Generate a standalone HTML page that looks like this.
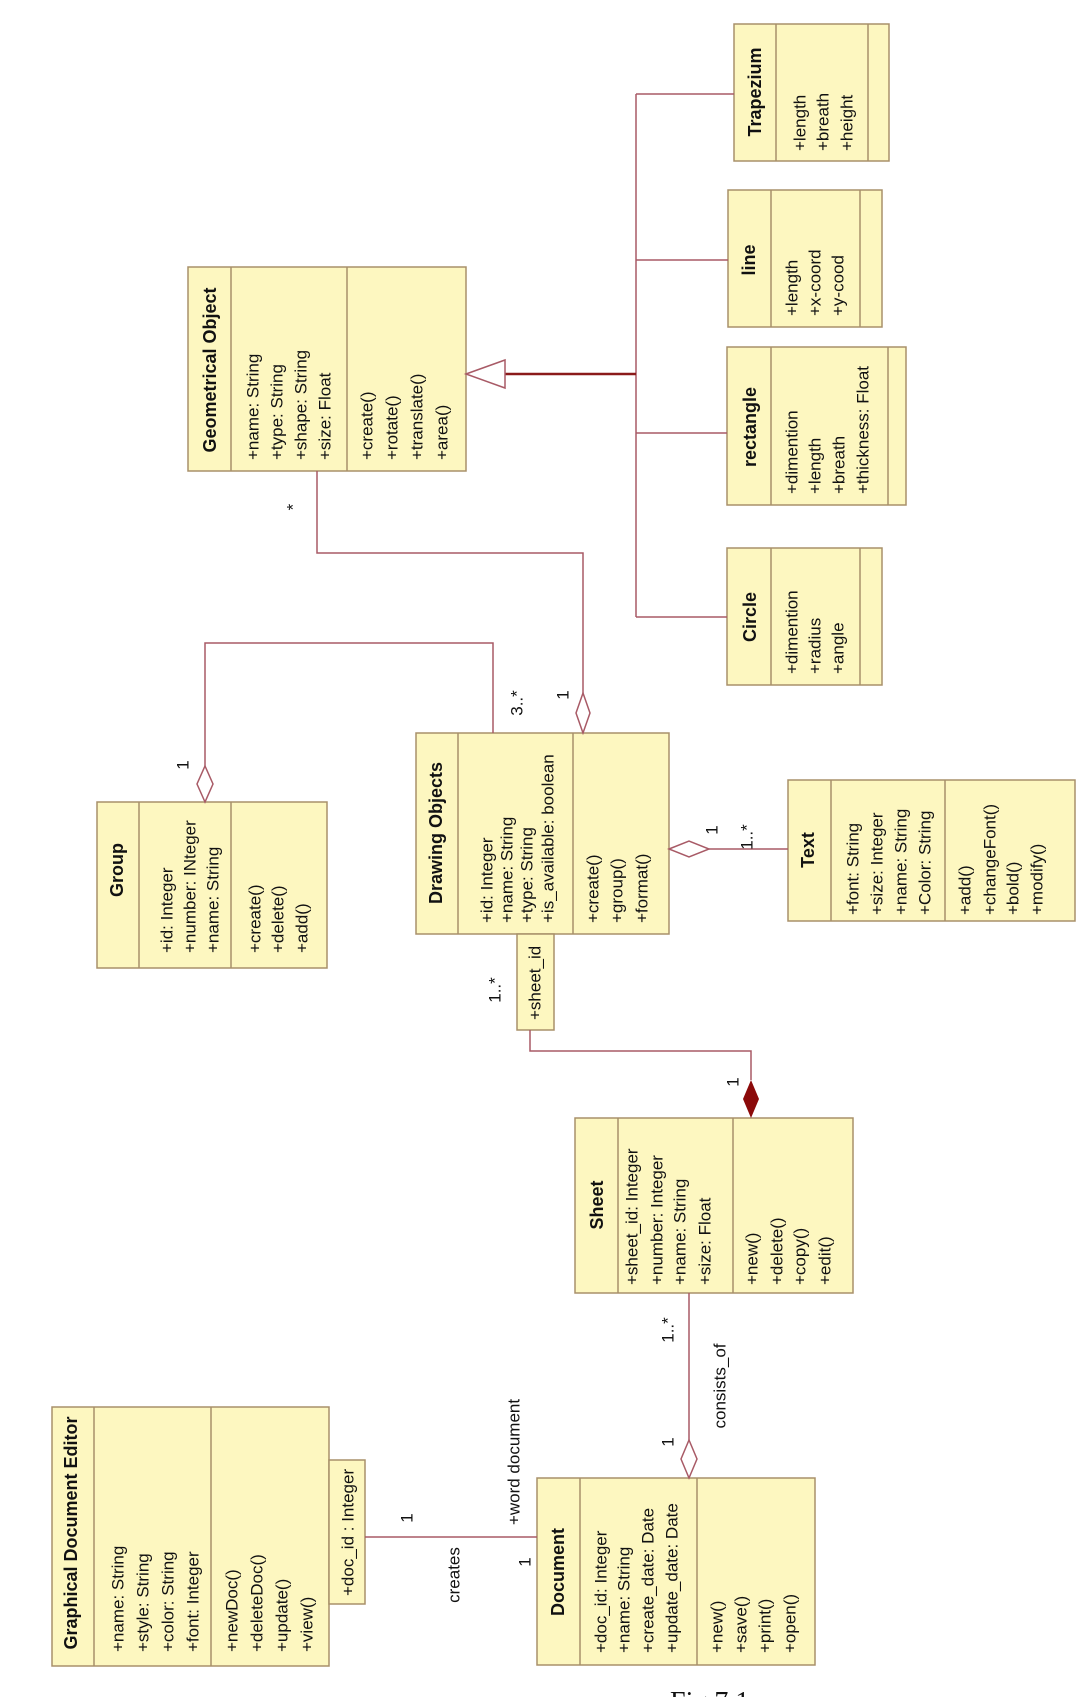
<!DOCTYPE html>
<html><head><meta charset="utf-8"><style>
html,body{margin:0;padding:0;background:#fff;}
svg{display:block;}
text{font-family:"Liberation Sans",sans-serif;fill:#111;}
.t{font-size:18px;font-weight:bold;}
.a{font-size:17px;}
.l{font-size:17px;}
</style></head><body>
<svg width="1080" height="1697" viewBox="0 0 1080 1697" xmlns="http://www.w3.org/2000/svg">
<g fill="#fdf7c0" stroke="#a8906a" stroke-width="1.5">
<rect x="52" y="1407" width="277" height="259"/><line x1="94" y1="1407" x2="94" y2="1666"/><line x1="211" y1="1407" x2="211" y2="1666"/>
<rect x="329" y="1460" width="36" height="144"/>
<rect x="537" y="1478" width="278" height="187"/><line x1="580" y1="1478" x2="580" y2="1665"/><line x1="697" y1="1478" x2="697" y2="1665"/>
<rect x="575" y="1118" width="278" height="175"/><line x1="618" y1="1118" x2="618" y2="1293"/><line x1="733" y1="1118" x2="733" y2="1293"/>
<rect x="416" y="733" width="253" height="201"/><line x1="458" y1="733" x2="458" y2="934"/><line x1="573" y1="733" x2="573" y2="934"/>
<rect x="517" y="934" width="37" height="96"/>
<rect x="97" y="802" width="230" height="166"/><line x1="139" y1="802" x2="139" y2="968"/><line x1="231" y1="802" x2="231" y2="968"/>
<rect x="188" y="267" width="278" height="204"/><line x1="231" y1="267" x2="231" y2="471"/><line x1="347" y1="267" x2="347" y2="471"/>
<rect x="734" y="24" width="155" height="137"/><line x1="776" y1="24" x2="776" y2="161"/><line x1="868" y1="24" x2="868" y2="161"/>
<rect x="728" y="190" width="154" height="137"/><line x1="771" y1="190" x2="771" y2="327"/><line x1="860" y1="190" x2="860" y2="327"/>
<rect x="727" y="347" width="179" height="158"/><line x1="771" y1="347" x2="771" y2="505"/><line x1="888" y1="347" x2="888" y2="505"/>
<rect x="727" y="548" width="155" height="137"/><line x1="771" y1="548" x2="771" y2="685"/><line x1="860" y1="548" x2="860" y2="685"/>
<rect x="788" y="780" width="287" height="141"/><line x1="831" y1="780" x2="831" y2="921"/><line x1="945" y1="780" x2="945" y2="921"/>
</g>
<g fill="none" stroke="#a85a66" stroke-width="1.5">
<polyline points="365,1537 537,1537"/>
<polyline points="689,1293 689,1440"/>
<polygon points="689,1440 681,1459 689,1478 697,1459" fill="#fff"/>
<polyline points="530,1030 530,1051 751,1051 751,1080"/>
<polyline points="205,766 205,643 493,643 493,733"/>
<polygon points="205,802 197,784 205,766 213,784" fill="#fff"/>
<polyline points="583,693 583,553 317,553 317,471"/>
<polygon points="583,733 576,713 583,693 590,713" fill="#fff"/>
<polyline points="709,849 788,849"/>
<polygon points="669,849 689,841 709,849 689,857" fill="#fff"/>
<polyline points="636,94 636,617"/>
<polyline points="636,94 734,94"/><polyline points="636,260 728,260"/><polyline points="636,433 727,433"/><polyline points="636,617 727,617"/>
</g>
<polygon points="751,1080 743,1099 751,1118 759,1099" fill="#8b0a0a"/>
<line x1="505" y1="374" x2="636" y2="374" stroke="#8b1a1a" stroke-width="2.5"/>
<polygon points="466,374 505,360 505,388" fill="#fff" stroke="#a85a66" stroke-width="1.5"/>
<g dominant-baseline="central">
<!-- GDE -->
<text class="t" text-anchor="middle" transform="translate(71,1533) rotate(-90)">Graphical Document Editor</text>
<g class="a" transform="translate(0,1652)">
<text transform="translate(118,0) rotate(-90)">+name: String</text>
<text transform="translate(143,0) rotate(-90)">+style: String</text>
<text transform="translate(168,0) rotate(-90)">+color: String</text>
<text transform="translate(193,0) rotate(-90)">+font: Integer</text>
<text transform="translate(232,0) rotate(-90)">+newDoc()</text>
<text transform="translate(257,0) rotate(-90)">+deleteDoc()</text>
<text transform="translate(282,0) rotate(-90)">+update()</text>
<text transform="translate(307,0) rotate(-90)">+view()</text>
</g>
<text class="a" transform="translate(348,1596) rotate(-90)">+doc_id : Integer</text>
<!-- Document -->
<text class="t" text-anchor="middle" transform="translate(558,1572) rotate(-90)">Document</text>
<g class="a" transform="translate(0,1653)">
<text transform="translate(601,0) rotate(-90)">+doc_id: Integer</text>
<text transform="translate(624,0) rotate(-90)">+name: String</text>
<text transform="translate(648,0) rotate(-90)">+create_date: Date</text>
<text transform="translate(672,0) rotate(-90)">+update_date: Date</text>
<text transform="translate(717,0) rotate(-90)">+new()</text>
<text transform="translate(741,0) rotate(-90)">+save()</text>
<text transform="translate(765,0) rotate(-90)">+print()</text>
<text transform="translate(790,0) rotate(-90)">+open()</text>
</g>
<!-- Sheet -->
<text class="t" text-anchor="middle" transform="translate(597,1205) rotate(-90)">Sheet</text>
<g class="a" transform="translate(0,1285)">
<text transform="translate(632,0) rotate(-90)">+sheet_id: Integer</text>
<text transform="translate(657,0) rotate(-90)">+number: Integer</text>
<text transform="translate(680,0) rotate(-90)">+name: String</text>
<text transform="translate(705,0) rotate(-90)">+size: Float</text>
<text transform="translate(752,0) rotate(-90)">+new()</text>
<text transform="translate(777,0) rotate(-90)">+delete()</text>
<text transform="translate(800,0) rotate(-90)">+copy()</text>
<text transform="translate(825,0) rotate(-90)">+edit()</text>
</g>
<!-- Drawing Objects -->
<text class="t" text-anchor="middle" transform="translate(436,833) rotate(-90)">Drawing Objects</text>
<g class="a" transform="translate(0,923)">
<text transform="translate(487,0) rotate(-90)">+id: Integer</text>
<text transform="translate(507,0) rotate(-90)">+name: String</text>
<text transform="translate(527,0) rotate(-90)">+type: String</text>
<text transform="translate(548,0) rotate(-90)">+is_available: boolean</text>
<text transform="translate(593,0) rotate(-90)">+create()</text>
<text transform="translate(617,0) rotate(-90)">+group()</text>
<text transform="translate(642,0) rotate(-90)">+format()</text>
</g>
<text class="a" transform="translate(535,1020) rotate(-90)">+sheet_id</text>
<!-- Group -->
<text class="t" text-anchor="middle" transform="translate(117,870) rotate(-90)">Group</text>
<g class="a" transform="translate(0,953)">
<text transform="translate(167,0) rotate(-90)">+id: Integer</text>
<text transform="translate(190,0) rotate(-90)">+number: INteger</text>
<text transform="translate(213,0) rotate(-90)">+name: String</text>
<text transform="translate(255,0) rotate(-90)">+create()</text>
<text transform="translate(278,0) rotate(-90)">+delete()</text>
<text transform="translate(302,0) rotate(-90)">+add()</text>
</g>
<!-- Geometrical -->
<text class="t" text-anchor="middle" transform="translate(210,370) rotate(-90)">Geometrical Object</text>
<g class="a" transform="translate(0,460)">
<text transform="translate(253,0) rotate(-90)">+name: String</text>
<text transform="translate(277,0) rotate(-90)">+type: String</text>
<text transform="translate(301,0) rotate(-90)">+shape: String</text>
<text transform="translate(325,0) rotate(-90)">+size: Float</text>
<text transform="translate(367,0) rotate(-90)">+create()</text>
<text transform="translate(392,0) rotate(-90)">+rotate()</text>
<text transform="translate(417,0) rotate(-90)">+translate()</text>
<text transform="translate(442,0) rotate(-90)">+area()</text>
</g>
<!-- Trapezium -->
<text class="t" text-anchor="middle" transform="translate(755,92) rotate(-90)">Trapezium</text>
<g class="a" transform="translate(0,151)">
<text transform="translate(800,0) rotate(-90)">+length</text>
<text transform="translate(823,0) rotate(-90)">+breath</text>
<text transform="translate(847,0) rotate(-90)">+height</text>
</g>
<!-- line -->
<text class="t" text-anchor="middle" transform="translate(749,260) rotate(-90)">line</text>
<g class="a" transform="translate(0,316)">
<text transform="translate(792,0) rotate(-90)">+length</text>
<text transform="translate(815,0) rotate(-90)">+x-coord</text>
<text transform="translate(838,0) rotate(-90)">+y-cood</text>
</g>
<!-- rectangle -->
<text class="t" text-anchor="middle" transform="translate(750,427) rotate(-90)">rectangle</text>
<g class="a" transform="translate(0,494)">
<text transform="translate(792,0) rotate(-90)">+dimention</text>
<text transform="translate(815,0) rotate(-90)">+length</text>
<text transform="translate(839,0) rotate(-90)">+breath</text>
<text transform="translate(863,0) rotate(-90)">+thickness: Float</text>
</g>
<!-- Circle -->
<text class="t" text-anchor="middle" transform="translate(750,617) rotate(-90)">Circle</text>
<g class="a" transform="translate(0,674)">
<text transform="translate(792,0) rotate(-90)">+dimention</text>
<text transform="translate(815,0) rotate(-90)">+radius</text>
<text transform="translate(838,0) rotate(-90)">+angle</text>
</g>
<!-- Text -->
<text class="t" text-anchor="middle" transform="translate(808,850) rotate(-90)">Text</text>
<g class="a" transform="translate(0,915)">
<text transform="translate(853,0) rotate(-90)">+font: String</text>
<text transform="translate(877,0) rotate(-90)">+size: Integer</text>
<text transform="translate(901,0) rotate(-90)">+name: String</text>
<text transform="translate(925,0) rotate(-90)">+Color: String</text>
<text transform="translate(965,0) rotate(-90)">+add()</text>
<text transform="translate(990,0) rotate(-90)">+changeFont()</text>
<text transform="translate(1013,0) rotate(-90)">+bold()</text>
<text transform="translate(1037,0) rotate(-90)">+modify()</text>
</g>
<!-- labels -->
<g class="l" text-anchor="middle">
<text transform="translate(407,1518) rotate(-90)">1</text>
<text transform="translate(454,1575) rotate(-90)">creates</text>
<text transform="translate(514,1462) rotate(-90)">+word document</text>
<text transform="translate(525,1562) rotate(-90)">1</text>
<text transform="translate(668,1330) rotate(-90)">1..*</text>
<text transform="translate(720,1386) rotate(-90)">consists_of</text>
<text transform="translate(668,1442) rotate(-90)">1</text>
<text transform="translate(733,1082) rotate(-90)">1</text>
<text transform="translate(495,990) rotate(-90)">1..*</text>
<text transform="translate(517,703) rotate(-90)">3..*</text>
<text transform="translate(563,695) rotate(-90)">1</text>
<text transform="translate(183,765) rotate(-90)">1</text>
<text transform="translate(293,507) rotate(-90)">*</text>
<text transform="translate(712,830) rotate(-90)">1</text>
<text transform="translate(747,837) rotate(-90)">1..*</text>
</g>
</g>
<text x="670" y="1711" style="font-family:'Liberation Serif',serif;font-size:28px;">Fig 7.1</text>
</svg>
</body></html>
